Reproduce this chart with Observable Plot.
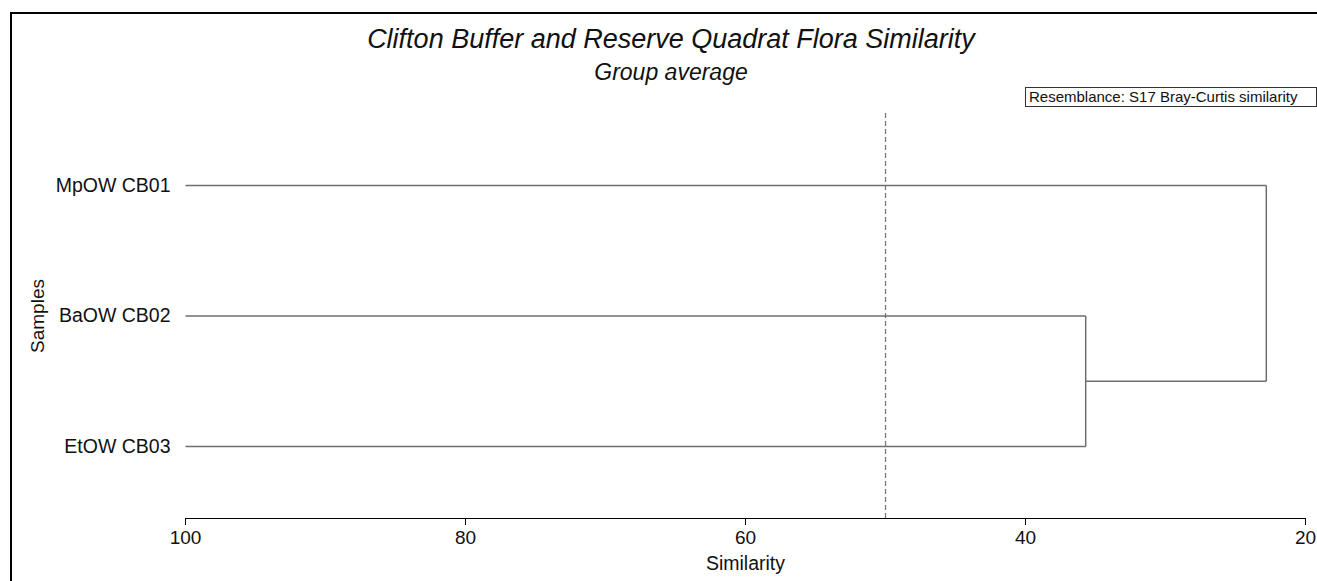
<!DOCTYPE html>
<html>
<head>
<meta charset="utf-8">
<script src="https://cdn.jsdelivr.net/npm/d3@7"></script>
<script src="https://cdn.jsdelivr.net/npm/@observablehq/plot@0.6"></script>
<style>
  html, body { margin: 0; padding: 0; background: #fff; overflow: hidden; }
  #wrap { position: relative; width: 1317px; height: 581px; overflow: hidden;
          font-family: "Liberation Sans", Arial, sans-serif; }
  #frame { position: absolute; left: 10px; top: 12px; width: 1400px; height: 700px;
           border: 2px solid #000; box-sizing: border-box; pointer-events: none; }
  #title { position: absolute; left: 0; width: 1342px; top: 26px; text-align: center;
           font-style: italic; font-size: 27px; line-height: 27px; color: #111; }
  #subtitle { position: absolute; left: 0; width: 1342px; top: 61px; text-align: center;
              font-style: italic; font-size: 23px; line-height: 23px; color: #111; }
  #legend { position: absolute; left: 1025px; top: 87px; width: 292px; height: 20px;
            border: 1px solid #333; box-sizing: border-box; font-size: 15px; line-height: 18px;
            padding-left: 3px; color: #111; white-space: nowrap; }
  #chart { position: absolute; left: 0; top: 0; }
</style>
</head>
<body>
<div id="wrap">
  <div id="chart"></div>
  <div id="frame"></div>
  <div id="title">Clifton Buffer and Reserve Quadrat Flora Similarity</div>
  <div id="subtitle">Group average</div>
  <div id="legend">Resemblance: S17 Bray-Curtis similarity</div>
</div>
<script>
// ---- data ----
const samples = ["MpOW CB01", "BaOW CB02", "EtOW CB03"];
// merges (scipy-style: index >= samples.length refers to an earlier merge)
const mergeLeft = [1, 0];
const mergeRight = [2, 3];
const mergeSim = [35.7, 22.8];
const cutSim = 50;
const xTicks = [100, 80, 60, 40, 20];
const xLabel = "Similarity";
const yLabel = "Samples";

// ---- build dendrogram segments ----
const nodes = samples.map((s, i) => ({y: i + 1, sim: 100}));
const hsegs = [];
const vsegs = [];
mergeLeft.forEach((a, k) => {
  const b = mergeRight[k];
  const s = mergeSim[k];
  const na = nodes[a], nb = nodes[b];
  hsegs.push({x1: na.sim, x2: s, y: na.y});
  hsegs.push({x1: nb.sim, x2: s, y: nb.y});
  vsegs.push({x: s, y1: na.y, y2: nb.y});
  nodes.push({y: (na.y + nb.y) / 2, sim: s});
});

const yDomain = [0.448, 3.552];
const lineColor = "#6e6e6e";

const plot = Plot.plot({
  width: 1317,
  height: 581,
  marginLeft: 185,
  marginRight: 12,
  marginTop: 113,
  marginBottom: 63,
  style: {fontFamily: "Liberation Sans, Arial, sans-serif", fontSize: "19px", color: "#111", background: "transparent"},
  x: {domain: [100, 20]},
  y: {domain: yDomain, reverse: true},
  marks: [
    Plot.ruleX([cutSim], {y1: yDomain[0], y2: yDomain[1], stroke: "#7a7a7a", strokeWidth: 1.3, strokeDasharray: "5,3"}),
    Plot.link(hsegs, {x1: "x1", x2: "x2", y1: "y", y2: "y", stroke: lineColor, strokeWidth: 1.5}),
    Plot.link(vsegs, {x1: "x", x2: "x", y1: "y1", y2: "y2", stroke: lineColor, strokeWidth: 1.5}),
    Plot.ruleY([yDomain[1]], {x1: xTicks[0], x2: xTicks[xTicks.length - 1], stroke: "#000", strokeWidth: 1.2}),
    Plot.axisX({ticks: xTicks, tickSize: 7, tickPadding: 5, label: null, stroke: "#000", fontSize: 19}),
    Plot.axisY({ticks: samples.map((s, i) => i + 1), tickSize: 0, tickPadding: 15,
                tickFormat: d => samples[d - 1], label: null, fontSize: 19.5}),
    Plot.text([xLabel], {frameAnchor: "bottom", x: 60, dy: 51, fontSize: 19.5, fill: "#111"}),
    Plot.text([yLabel], {frameAnchor: "left", y: 2, dx: -148, rotate: -90, textAnchor: "middle", fontSize: 19, fill: "#111"})
  ]
});
document.getElementById("chart").appendChild(plot);
</script>
</body>
</html>
